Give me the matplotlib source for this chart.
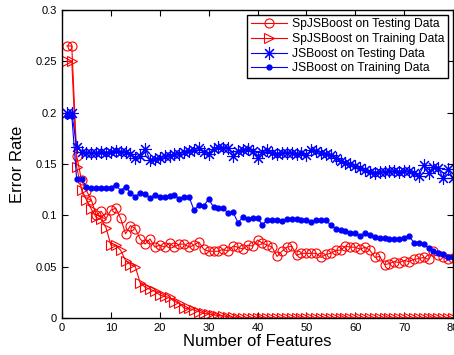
import numpy as np
import matplotlib
matplotlib.use("Agg")
import matplotlib.pyplot as plt

plt.rcParams['font.family'] = ['Liberation Sans', 'DejaVu Sans']

num_features = np.arange(1, 81)

sp_test = [0.265, 0.265, 0.158, 0.134, 0.124, 0.115, 0.100, 0.104, 0.097, 0.105,
           0.107, 0.097, 0.082, 0.090, 0.087, 0.077, 0.072, 0.077, 0.069, 0.071,
           0.069, 0.073, 0.069, 0.072, 0.072, 0.069, 0.071, 0.074, 0.067, 0.065,
           0.065, 0.065, 0.067, 0.065, 0.070, 0.069, 0.067, 0.071, 0.070, 0.076,
           0.073, 0.071, 0.069, 0.060, 0.065, 0.069, 0.070, 0.061, 0.063, 0.063,
           0.063, 0.063, 0.059, 0.062, 0.063, 0.066, 0.066, 0.070, 0.069, 0.069,
           0.067, 0.069, 0.066, 0.059, 0.060, 0.052, 0.053, 0.055, 0.054, 0.056,
           0.055, 0.057, 0.058, 0.059, 0.057, 0.065, 0.061, 0.059, 0.057, 0.058]

sp_train = [0.250, 0.250, 0.147, 0.125, 0.115, 0.106, 0.098, 0.096, 0.088, 0.071,
            0.071, 0.066, 0.056, 0.052, 0.050, 0.034, 0.030, 0.028, 0.026, 0.0225,
            0.021, 0.020, 0.016, 0.0146, 0.0094, 0.0094, 0.0078, 0.0062, 0.0045, 0.004,
            0.003, 0.0023, 0.002, 0.0013, 0.0005] + [0.0] * 45

js_test = [0.200, 0.200, 0.167, 0.162, 0.161, 0.161, 0.161, 0.162, 0.161, 0.162,
           0.163, 0.162, 0.162, 0.160, 0.156, 0.158, 0.165, 0.154, 0.155, 0.156,
           0.158, 0.158, 0.160, 0.160, 0.162, 0.163, 0.164, 0.166, 0.162, 0.160,
           0.165, 0.167, 0.166, 0.166, 0.158, 0.163, 0.164, 0.165, 0.163, 0.156,
           0.162, 0.164, 0.161, 0.160, 0.161, 0.161, 0.161, 0.160, 0.161, 0.159,
           0.164, 0.163, 0.161, 0.160, 0.159, 0.156, 0.153, 0.151, 0.150, 0.148,
           0.146, 0.144, 0.142, 0.141, 0.142, 0.142, 0.143, 0.143, 0.142, 0.143,
           0.143, 0.141, 0.138, 0.149, 0.141, 0.147, 0.146, 0.136, 0.145, 0.136]

js_train = [0.197, 0.197, 0.135, 0.135, 0.128, 0.127, 0.127, 0.127, 0.127, 0.127,
            0.130, 0.124, 0.128, 0.122, 0.118, 0.122, 0.121, 0.117, 0.120, 0.118,
            0.118, 0.119, 0.120, 0.116, 0.118, 0.118, 0.105, 0.110, 0.109, 0.116,
            0.108, 0.107, 0.107, 0.102, 0.103, 0.093, 0.098, 0.096, 0.097, 0.097,
            0.091, 0.095, 0.0955, 0.095, 0.0945, 0.0964, 0.096, 0.096, 0.0958, 0.095,
            0.094, 0.095, 0.0955, 0.095, 0.0906, 0.087, 0.0855, 0.085, 0.083, 0.0825,
            0.080, 0.083, 0.081, 0.079, 0.0776, 0.0776, 0.0766, 0.0766, 0.0766, 0.078,
            0.080, 0.0734, 0.0734, 0.072, 0.068, 0.065, 0.063, 0.062, 0.059, 0.0595]

x_ticks = [0, 10, 20, 30, 40, 50, 60, 70, 80]
y_ticks = [0, 0.05, 0.1, 0.15, 0.2, 0.25, 0.3]
y_tick_labels = ['0', '0.05', '0.1', '0.15', '0.2', '0.25', '0.3']

fig = plt.figure(figsize=(4.54, 3.55), dpi=100)
ax = fig.add_axes([0.1366, 0.1042, 0.8612, 0.8676])

ax.plot(num_features, sp_test, '-', color='red', lw=0.8, marker='o',
        mfc='none', mec='red', ms=6.5, mew=0.8, label='SpJSBoost on Testing Data')
ax.plot(num_features, sp_train, '-', color='red', lw=0.8, marker='>',
        mfc='none', mec='red', ms=6.5, mew=0.8, label='SpJSBoost on Training Data')
ax.plot(num_features, js_test, '-', color='blue', lw=0.8, marker=(8, 2, 0),
        mec='blue', ms=9, mew=0.8, label='JSBoost on Testing Data')
ax.plot(num_features, js_train, '-', color='blue', lw=0.8, marker='o',
        mfc='blue', mec='blue', ms=3.5, label='JSBoost on Training Data')

ax.set_xlim(0, 80)
ax.set_ylim(0, 0.3)
ax.set_xticks(x_ticks)
ax.set_yticks(y_ticks)
ax.set_yticklabels(y_tick_labels)
ax.tick_params(direction='in', top=True, right=True, labelsize=8, length=4)
for s in ax.spines.values():
    s.set_linewidth(1.0)

ax.set_xlabel('Number of Features', fontsize=12, labelpad=1)
ax.set_ylabel('Error Rate', fontsize=12, labelpad=8)

leg = ax.legend(loc='upper right', fontsize=8.7, fancybox=False, framealpha=1,
                edgecolor='black', borderaxespad=0.4, labelspacing=0.22,
                handlelength=3, borderpad=0.3, handletextpad=0.4)
leg.get_frame().set_linewidth(1.0)

fig.savefig('out.png', dpi=100)
